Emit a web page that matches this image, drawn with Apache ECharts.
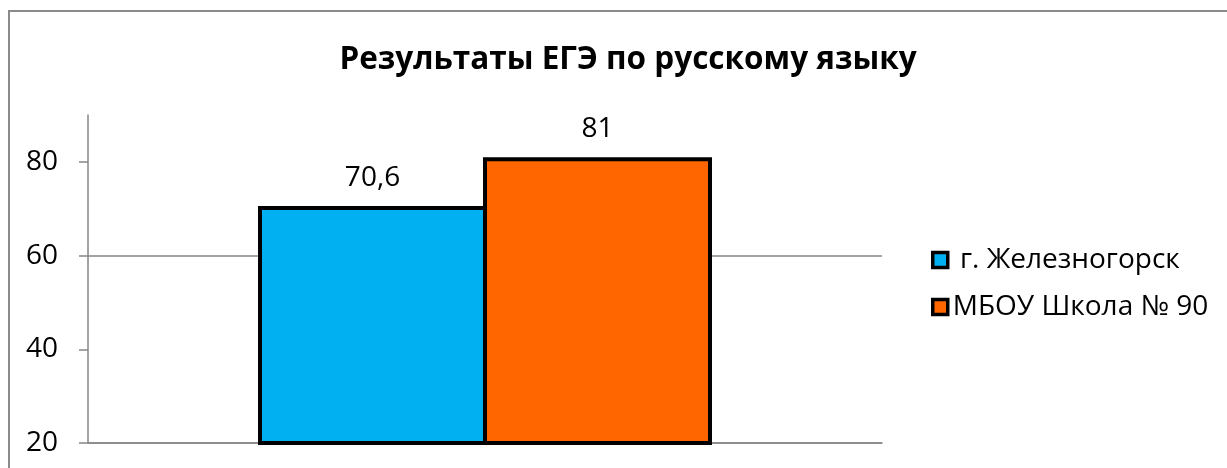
<!DOCTYPE html>
<html>
<head>
<meta charset="utf-8">
<script src="https://cdn.jsdelivr.net/npm/echarts@6/dist/echarts.min.js"></script>
<style>
  html, body { margin: 0; padding: 0; background: #fff; overflow: hidden; }
  #wrap { position: relative; width: 1227px; height: 468px; overflow: hidden; }
  #frame { position: absolute; left: 8px; top: 10px; width: 1300px; height: 500px;
           border-left: 2.5px solid #8a8a8a; border-top: 2.5px solid #8a8a8a;
           pointer-events: none; }
  #chart { position: absolute; left: 0; top: 0; width: 1227px; height: 468px; }
</style>
</head>
<body>
<div id="wrap">
  <div id="chart"></div>
  <div id="frame"></div>
</div>
<script>
// данные диаграммы
const categories = ['ЕГЭ'];
const seriesNames = [' г. Железногорск', 'МБОУ Школа № 90'];
const cityValues = [70.6];
const schoolValues = [81];
const tickValues = [20, 40, 60, 80];

const font = 'Open Sans';
const chart = echarts.init(document.getElementById('chart'));

const valueLabel = {
  show: true, position: 'top', distance: 14,
  fontSize: 28, lineHeight: 28, color: '#000', fontFamily: font,
  formatter: p => String(p.value).replace('.', ',')
};

const option = {
  animation: false,
  backgroundColor: '#fff',
  textStyle: { fontFamily: font },
  title: {
    text: 'Результаты ЕГЭ по русскому языку',
    left: 623,
    top: 36,
    textAlign: 'center',
    textStyle: { fontSize: 31.5, fontWeight: 'bold', color: '#000', fontFamily: font, lineHeight: 38 }
  },
  legend: {
    orient: 'vertical',
    left: 926,
    top: 241,
    itemWidth: 15,
    itemHeight: 15,
    itemGap: 19,
    icon: 'rect',
    itemStyle: { borderColor: '#000', borderWidth: 3.5 },
    textStyle: { fontSize: 28, color: '#000', fontFamily: font, lineHeight: 28 },
    data: seriesNames
  },
  grid: { left: 88, right: 345, top: 115, bottom: 25 },
  xAxis: {
    type: 'category',
    data: categories,
    axisLine: { lineStyle: { color: '#868686', width: 1.5 } },
    axisTick: { show: false },
    axisLabel: { show: false }
  },
  yAxis: {
    type: 'value',
    min: 20,
    max: 90,
    interval: 10,
    axisLine: { show: true, lineStyle: { color: '#868686', width: 1.5 } },
    axisTick: { show: true, length: 9, customValues: tickValues, lineStyle: { color: '#868686', width: 1.5 } },
    axisLabel: {
      customValues: tickValues,
      margin: 30,
      fontSize: 28,
      color: '#000',
      fontFamily: font
    },
    splitLine: {
      show: true,
      lineStyle: { color: ['#868686', 'rgba(0,0,0,0)'], width: 1.5 }
    }
  },
  series: [
    {
      name: seriesNames[0],
      type: 'bar',
      data: cityValues,
      barWidth: 229,
      barGap: '-1.75%',
      itemStyle: { color: '#00b0f0', borderColor: '#000', borderWidth: 4 },
      label: valueLabel
    },
    {
      name: seriesNames[1],
      type: 'bar',
      data: schoolValues,
      barWidth: 229,
      itemStyle: { color: '#ff6600', borderColor: '#000', borderWidth: 4 },
      label: valueLabel
    }
  ]
};

chart.setOption(option);
</script>
</body>
</html>
